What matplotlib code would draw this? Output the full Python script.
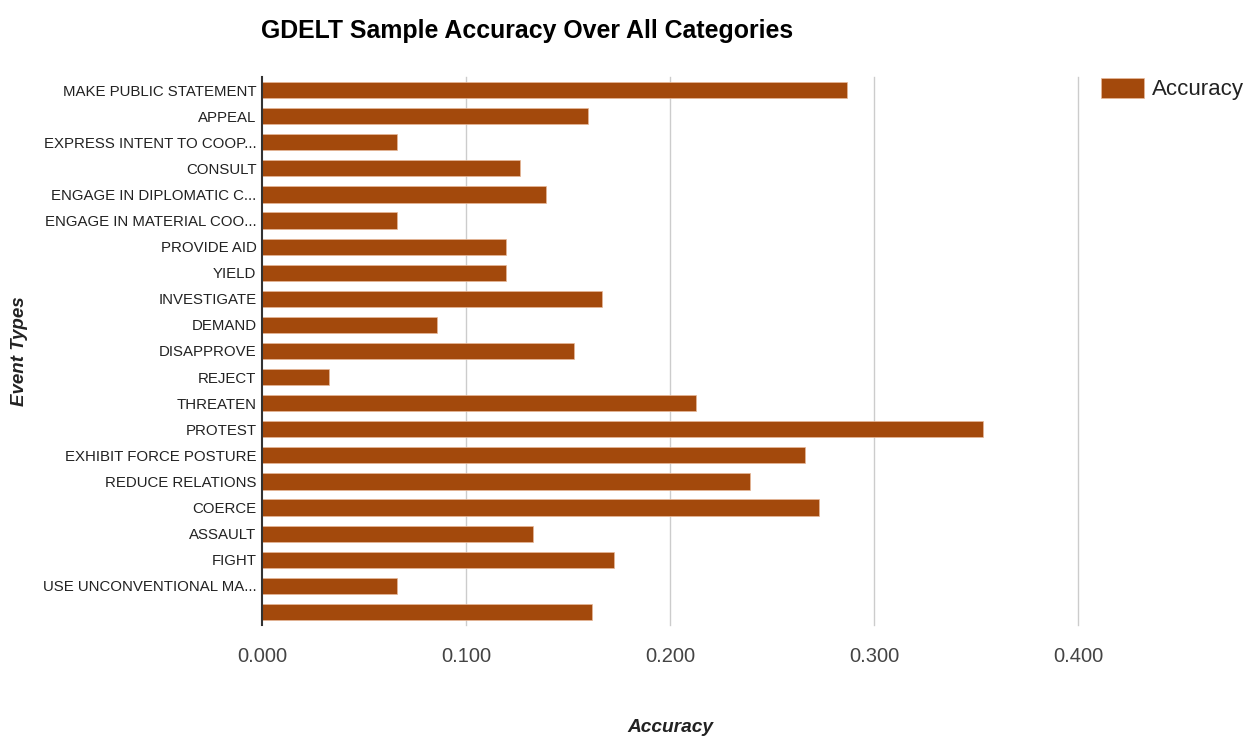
import matplotlib
matplotlib.use("Agg")
import matplotlib.pyplot as plt

plt.rcParams['font.family'] = ['Liberation Sans', 'DejaVu Sans']

categories = [
    "MAKE PUBLIC STATEMENT", "APPEAL", "EXPRESS INTENT TO COOP...", "CONSULT",
    "ENGAGE IN DIPLOMATIC C...", "ENGAGE IN MATERIAL COO...", "PROVIDE AID", "YIELD",
    "INVESTIGATE", "DEMAND", "DISAPPROVE", "REJECT", "THREATEN", "PROTEST",
    "EXHIBIT FORCE POSTURE", "REDUCE RELATIONS", "COERCE", "ASSAULT", "FIGHT",
    "USE UNCONVENTIONAL MA...", "",
]
accuracy = [
    0.2868, 0.160, 0.0662, 0.1265, 0.139, 0.0662, 0.1196, 0.1196, 0.1667,
    0.0858, 0.153, 0.0328, 0.2127, 0.3534, 0.266, 0.239, 0.273, 0.1328,
    0.1725, 0.0662, 0.1618,
]
xticks = [0.0, 0.1, 0.2, 0.3, 0.4]
xtick_labels = ["0.000", "0.100", "0.200", "0.300", "0.400"]

bar_color = "#A3490C"

fig = plt.figure(figsize=(12.44, 7.38), dpi=100)
ax = fig.add_axes([262/1244, 1-625/738, (1078-262)/1244, (625-77)/738])

y = list(range(len(categories)))
ax.barh(y, accuracy, height=0.62, color=bar_color, edgecolor="#E8B899", linewidth=0.5, zorder=3)

ax.set_ylim(len(categories) - 0.5, -0.5)
ax.set_xlim(0, 0.4)
ax.set_yticks(y)
ax.set_yticklabels(categories, fontsize=10.8, color="#222222")
ax.set_xticks(xticks)
ax.set_xticklabels(xtick_labels, fontsize=14.5, color="#444444")
ax.tick_params(axis='both', length=0)
ax.tick_params(axis='y', pad=4)
ax.tick_params(axis='x', pad=16)

for x in xticks[1:]:
    ax.axvline(x, color="#CCCCCC", linewidth=1, zorder=1, clip_on=False)

for s in ["top", "right", "bottom"]:
    ax.spines[s].set_visible(False)
ax.spines["left"].set_color("#333333")
ax.spines["left"].set_linewidth(1.5)
ax.spines["left"].set_zorder(4)

fig.text(527/1244, 1-31/738, "GDELT Sample Accuracy Over All Categories",
         ha="center", va="center", fontsize=17.9, fontweight="bold", color="#000000")
fig.text(670/1244, 1-727/738, "Accuracy", ha="center", va="center",
         fontsize=13.8, fontweight="bold", fontstyle="italic", color="#222222")
fig.text(20/1244, 1-351/738, "Event Types", ha="center", va="center", rotation=90,
         fontsize=13.5, fontweight="bold", fontstyle="italic", color="#222222")

# legend
fig.patches.append(plt.Rectangle((1101/1244, 1-98/738), 43/1244, 20/738,
                   transform=fig.transFigure, facecolor=bar_color, edgecolor="#E8B899", linewidth=0.5))
fig.text(1152/1244, 1-89/738, "Accuracy", ha="left", va="center", fontsize=16, color="#222222")

fig.savefig("out.png", dpi=100)
